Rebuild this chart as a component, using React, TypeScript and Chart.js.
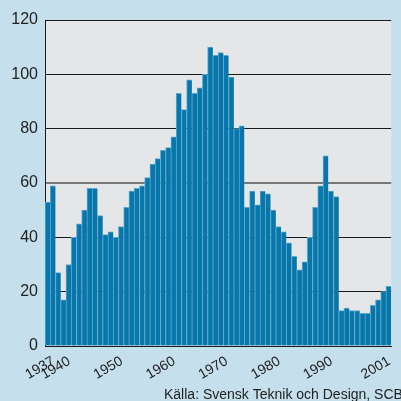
import React, { useEffect, useRef } from "react";
import { Chart, registerables } from "chart.js";

Chart.register(...registerables);

const years: string[] = [
  "1937", "1938", "1939", "1940", "1941", "1942", "1943", "1944", "1945", "1946",
  "1947", "1948", "1949", "1950", "1951", "1952", "1953", "1954", "1955", "1956",
  "1957", "1958", "1959", "1960", "1961", "1962", "1963", "1964", "1965", "1966",
  "1967", "1968", "1969", "1970", "1971", "1972", "1973", "1974", "1975", "1976",
  "1977", "1978", "1979", "1980", "1981", "1982", "1983", "1984", "1985", "1986",
  "1987", "1988", "1989", "1990", "1991", "1992", "1993", "1994", "1995", "1996",
  "1997", "1998", "1999", "2000", "2001", "2002",
];

const values: number[] = [
  53, 59, 27, 17, 30, 40, 45, 50, 58, 58,
  48, 41, 42, 40, 44, 51, 57, 58, 59, 62,
  67, 69, 72, 73, 77, 93, 87, 98, 93, 95,
  100, 110, 107, 108, 107, 99, 80, 81, 51, 57,
  52, 57, 56, 50, 44, 42, 38, 33, 28, 31,
  40, 51, 59, 70, 57, 55, 13, 14, 13, 13,
  12, 12, 15, 17, 20, 22,
];

const shownTickLabels: string[] = ["1937", "1940", "1950", "1960", "1970", "1980", "1990", "2001"];

const sourceText = "Källa: Svensk Teknik och Design, SCB";

const FONT = '"Liberation Sans", Arial, Helvetica, sans-serif';

export default function App() {
  const ref = useRef<HTMLCanvasElement | null>(null);

  useEffect(() => {
    if (!ref.current) return;
    const plotBg = {
      id: "plotBg",
      beforeDraw(chart: any) {
        const { ctx, chartArea } = chart;
        ctx.save();
        ctx.fillStyle = "#e5e6e8";
        ctx.fillRect(chartArea.left, chartArea.top, chartArea.right - chartArea.left, chartArea.bottom - chartArea.top);
        ctx.restore();
      },
    };
    const footer = {
      id: "footer",
      afterDraw(chart: any) {
        const { ctx } = chart;
        ctx.save();
        ctx.font = `14px ${FONT}`;
        ctx.fillStyle = "#222";
        ctx.textAlign = "left";
        ctx.textBaseline = "alphabetic";
        ctx.fillText(sourceText, 164, 399);
        ctx.restore();
      },
    };
    const chart = new Chart(ref.current, {
      type: "bar",
      data: {
        labels: years,
        datasets: [
          {
            data: values,
            backgroundColor: "#0777ab",
            borderColor: "#5aa6cd",
            borderWidth: { left: 1, top: 1, right: 0, bottom: 0 },
            borderSkipped: false,
            categoryPercentage: 1,
            barPercentage: 1,
          },
        ],
      },
      options: {
        responsive: false,
        animation: false,
        layout: { padding: { top: 20, right: 0, bottom: 0, left: 0 } },
        plugins: {
          legend: { display: false },
          tooltip: { enabled: false },
          title: { display: false },
        },
        scales: {
          x: {
            type: "category",
            offset: true,
            grid: { display: false, drawTicks: false },
            border: { display: true, color: "#1a1a1a", width: 1 },
            ticks: {
              autoSkip: false,
              minRotation: 30,
              maxRotation: 30,
              padding: 7,
              labelOffset: 6,
              color: "#222",
              font: { family: FONT, size: 14 },
              callback: function (this: any, value: any, index: number) {
                const lbl = years[index];
                return shownTickLabels.includes(lbl) ? lbl : "";
              },
            },
            afterFit: (s: any) => {
              s.height = 55;
            },
          },
          y: {
            min: 0,
            max: 120,
            grid: {
              drawTicks: false,
              color: (c: any) => (c.tick && c.tick.value === 60 ? "#777777" : "#1a1a1a"),
              lineWidth: (c: any) => (c.tick && c.tick.value === 60 ? 2 : 1),
            },
            border: { display: true, color: "#1a1a1a", width: 1 },
            ticks: {
              stepSize: 20,
              padding: 7,
              color: "#222",
              font: { family: FONT, size: 16 },
            },
            afterFit: (s: any) => {
              s.width = 45;
            },
          },
        },
      },
      plugins: [plotBg, footer],
    });
    return () => chart.destroy();
  }, []);

  return (
    <div
      style={{
        position: "fixed",
        left: 0,
        top: 0,
        width: 401,
        height: 401,
        overflow: "hidden",
        background: "#c6dfed",
      }}
    >
      <canvas ref={ref} width={404} height={401} style={{ display: "block" }} />
    </div>
  );
}
